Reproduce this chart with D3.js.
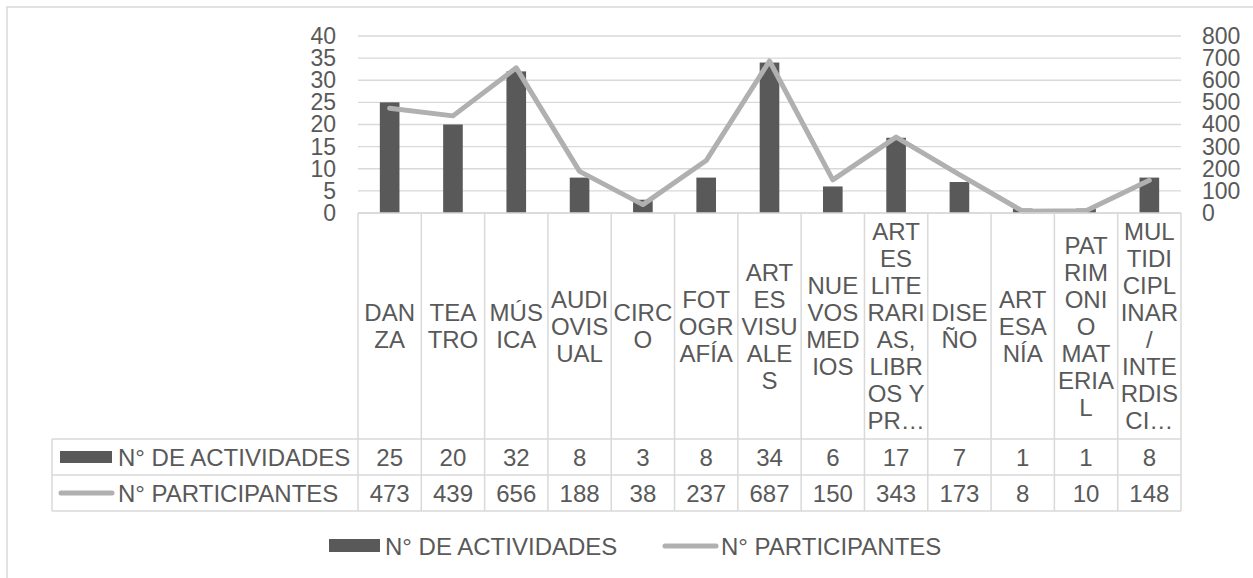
<!DOCTYPE html>
<html>
<head>
<meta charset="utf-8">
<script src="https://cdn.jsdelivr.net/npm/d3@7"></script>
<style>
  html, body { margin: 0; padding: 0; background: #fff; }
  svg { display: block; font-family: "Liberation Sans", Arial, sans-serif; }
</style>
</head>
<body>
<svg id="chart" width="1253" height="578"></svg>
<script>
const categories = ["DANZA", "TEATRO", "MÚSICA", "AUDIOVISUAL", "CIRCO", "FOTOGRAFÍA", "ARTES VISUALES", "NUEVOS MEDIOS", "ARTES LITERARIAS, LIBROS Y PR…", "DISEÑO", "ARTESANÍA", "PATRIMONIO MATERIAL", "MULTIDICIPLINAR / INTERDISCI…"];
const categoryLines = [
  ["DAN", "ZA"],
  ["TEA", "TRO"],
  ["MÚS", "ICA"],
  ["AUDI", "OVIS", "UAL"],
  ["CIRC", "O"],
  ["FOT", "OGR", "AFÍA"],
  ["ART", "ES", "VISU", "ALE", "S"],
  ["NUE", "VOS", "MED", "IOS"],
  ["ART", "ES", "LITE", "RARI", "AS,", "LIBR", "OS Y", "PR…"],
  ["DISE", "ÑO"],
  ["ART", "ESA", "NÍA"],
  ["PAT", "RIM", "ONI", "O", "MAT", "ERIA", "L"],
  ["MUL", "TIDI", "CIPL", "INAR", "/", "INTE", "RDIS", "CI…"]
];
const seriesNames = ["N° DE ACTIVIDADES", "N° PARTICIPANTES"];
const actividades = [25, 20, 32, 8, 3, 8, 34, 6, 17, 7, 1, 1, 8];
const participantes = [473, 439, 656, 188, 38, 237, 687, 150, 343, 173, 8, 10, 148];
const leftTicks = [0, 5, 10, 15, 20, 25, 30, 35, 40];
const rightTicks = [0, 100, 200, 300, 400, 500, 600, 700, 800];

const svg = d3.select("#chart");
const textColor = "#595959";
const barColor = "#595959";
const lineColor = "#b0b0b0";
const gridColor = "#d9d9d9";
const fontSize = 24;
const axisFontSize = 23;

const plotL = 358, plotR = 1181, plotT = 36, plotB = 213;
const tableL = 52, catBottom = 439, row1B = 475, row2B = 511;

// outer border
svg.append("rect").attr("x", 7).attr("y", 7).attr("width", 1300).attr("height", 700)
  .attr("fill", "none").attr("stroke", gridColor).attr("stroke-width", 1.5);

const x = d3.scaleBand().domain(categories).range([plotL, plotR]).padding(0);
const yL = d3.scaleLinear().domain([0, 40]).range([plotB, plotT]);
const yR = d3.scaleLinear().domain([0, 800]).range([plotB, plotT]);

// gridlines
svg.append("g").selectAll("line").data(leftTicks).join("line")
  .attr("x1", plotL).attr("x2", plotR)
  .attr("y1", d => yL(d)).attr("y2", d => yL(d))
  .attr("stroke", gridColor).attr("stroke-width", 1.3);

// left axis
const axL = svg.append("g").attr("transform", `translate(${plotL - 22},0)`)
  .call(d3.axisLeft(yL).tickValues(leftTicks).tickSize(0).tickPadding(0));
axL.select(".domain").remove();
axL.selectAll("text").attr("font-size", axisFontSize).attr("fill", textColor)
  .attr("font-family", "Liberation Sans, Arial, sans-serif");

// right axis
const axR = svg.append("g").attr("transform", `translate(${plotR + 21},0)`)
  .call(d3.axisRight(yR).tickValues(rightTicks).tickSize(0).tickPadding(0));
axR.select(".domain").remove();
axR.selectAll("text").attr("font-size", axisFontSize).attr("fill", textColor)
  .attr("font-family", "Liberation Sans, Arial, sans-serif");

// bars
const bw = x.bandwidth() * 0.31;
svg.append("g").selectAll("rect").data(actividades).join("rect")
  .attr("x", (d, i) => x(categories[i]) + x.bandwidth() / 2 - bw / 2)
  .attr("width", bw)
  .attr("y", d => yL(d))
  .attr("height", d => plotB - yL(d))
  .attr("fill", barColor);

// line
const line = d3.line()
  .x((d, i) => x(categories[i]) + x.bandwidth() / 2)
  .y(d => yR(d));
svg.append("path").datum(participantes).attr("d", line)
  .attr("fill", "none").attr("stroke", lineColor).attr("stroke-width", 5)
  .attr("stroke-linejoin", "round").attr("stroke-linecap", "round");

// table
const tg = svg.append("g");
const border = (x1, y1, x2, y2) => tg.append("line")
  .attr("x1", x1).attr("y1", y1).attr("x2", x2).attr("y2", y2)
  .attr("stroke", gridColor).attr("stroke-width", 1.5);

border(tableL, catBottom, plotR, catBottom);
border(tableL, row1B, plotR, row1B);
border(tableL, row2B, plotR, row2B);
border(tableL, catBottom, tableL, row2B);
categories.forEach((c, i) => border(x(c), plotB, x(c), row2B));
border(plotR, plotB, plotR, row2B);
border(plotL, plotB, plotR, plotB);

// category labels
const lh = 27;
const catMid = (plotB + catBottom) / 2;
categories.forEach((c, i) => {
  const lines = categoryLines[i];
  const top = catMid - (lines.length * lh) / 2;
  const t = tg.append("text").attr("text-anchor", "middle")
    .attr("font-size", fontSize).attr("fill", textColor);
  lines.forEach((ln, j) => {
    t.append("tspan").attr("x", x(c) + x.bandwidth() / 2)
      .attr("y", top + lh * j + lh / 2).attr("dy", "0.36em").text(ln);
  });
});

// data rows
const rows = [actividades, participantes];
const rowMid = [(catBottom + row1B) / 2, (row1B + row2B) / 2];
rows.forEach((vals, r) => {
  tg.append("g").selectAll("text").data(vals).join("text")
    .attr("x", (d, i) => x(categories[i]) + x.bandwidth() / 2)
    .attr("y", rowMid[r]).attr("dy", "0.36em")
    .attr("text-anchor", "middle").attr("font-size", fontSize).attr("fill", textColor)
    .text(d => d);
  tg.append("text").attr("x", 118).attr("y", rowMid[r]).attr("dy", "0.36em")
    .attr("font-size", fontSize).attr("fill", textColor).text(seriesNames[r]);
});
// row keys
tg.append("rect").attr("x", 60).attr("y", rowMid[0] - 6).attr("width", 52).attr("height", 12).attr("fill", barColor);
tg.append("line").attr("x1", 61).attr("x2", 112).attr("y1", rowMid[1]).attr("y2", rowMid[1])
  .attr("stroke", lineColor).attr("stroke-width", 5).attr("stroke-linecap", "round");

// legend
const lgY = 546;
const lg = svg.append("g");
lg.append("rect").attr("x", 329).attr("y", lgY - 7).attr("width", 51).attr("height", 13).attr("fill", barColor);
lg.append("text").attr("x", 385).attr("y", lgY).attr("dy", "0.36em")
  .attr("font-size", fontSize).attr("fill", textColor).text(seriesNames[0]);
lg.append("line").attr("x1", 665).attr("x2", 716).attr("y1", lgY).attr("y2", lgY)
  .attr("stroke", lineColor).attr("stroke-width", 5).attr("stroke-linecap", "round");
lg.append("text").attr("x", 721).attr("y", lgY).attr("dy", "0.36em")
  .attr("font-size", fontSize).attr("fill", textColor).text(seriesNames[1]);
</script>
</body>
</html>
